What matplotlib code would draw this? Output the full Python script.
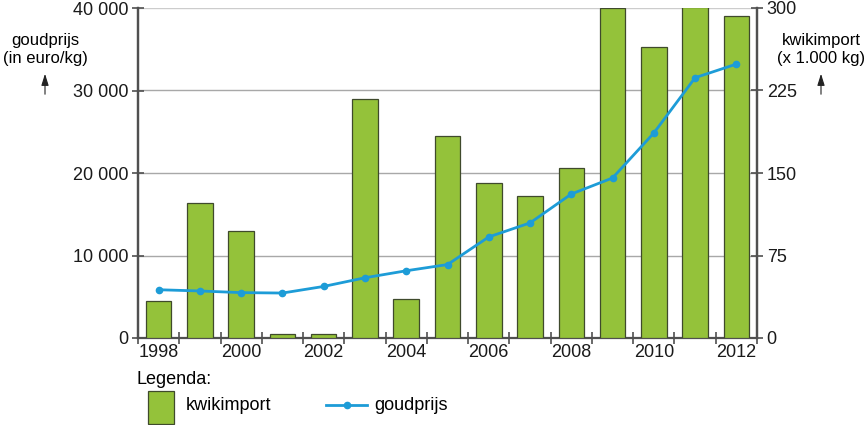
import matplotlib
matplotlib.use("Agg")
import matplotlib.pyplot as plt
import numpy as np

plt.rcParams['font.family'] = ['Liberation Sans', 'DejaVu Sans']

years = list(range(1998, 2013))
kwikimport = [33.5, 122.5, 97.5, 4, 4, 217, 35.5, 183.5, 141, 129, 154.5, 300, 264.5, 301, 293]
goudprijs = [5850, 5700, 5500, 5450, 6250, 7300, 8150, 8900, 12250, 13950, 17450, 19400, 24850, 31550, 33200]
left_ticks = [0, 10000, 20000, 30000, 40000]
right_ticks = [0, 75, 150, 225, 300]
year_labels = [1998, 2000, 2002, 2004, 2006, 2008, 2010, 2012]

bar_color = '#94c23a'
edge_color = '#3f4a2c'
line_color = '#1d9cd7'
spine_color = '#505050'
FS = 13

fig = plt.figure(figsize=(8.68, 4.25), dpi=100)
ax = fig.add_axes([138/868, 1-338/425, (757-138)/868, 330/425])
x = np.array(years)

ax.bar(x, kwikimport, width=0.62, color=bar_color, edgecolor=edge_color, linewidth=0.9, zorder=3)
ax.set_ylim(0, 300)
ax.set_xlim(1997.5, 2012.5)
for v in right_ticks[1:]:
    ax.axhline(v, color='#cccccc' if v == 300 else '#a8a8a8', linewidth=1, zorder=1)

ax2 = ax.twinx()
ax2.plot(x, goudprijs, color=line_color, linewidth=2, marker='o', markersize=4.5, zorder=5)
ax2.set_ylim(0, 40000)

ax.yaxis.tick_right()
ax.set_yticks(right_ticks)
ax.set_yticklabels([str(v) for v in right_ticks], fontsize=FS)
ax2.yaxis.tick_left()
ax2.set_yticks(left_ticks)
ax2.set_yticklabels([f"{v:,}".replace(",", " ") for v in left_ticks], fontsize=FS)

for a in (ax, ax2):
    a.spines['top'].set_visible(False)
    for s in ('left', 'right', 'bottom'):
        a.spines[s].set_color(spine_color)
        a.spines[s].set_linewidth(1.6)
    a.tick_params(axis='y', direction='inout', length=8, width=1.2, color=spine_color, pad=3, labelcolor='#1a1a1a')
ax2.spines['bottom'].set_visible(False)

ax.set_xticks(year_labels)
ax.set_xticklabels([str(y) for y in year_labels], fontsize=FS)
ax.set_xticks(np.arange(1997.5, 2013, 1.0), minor=True)
ax.tick_params(axis='x', which='major', length=0, pad=4, labelcolor='#1a1a1a')
ax.tick_params(axis='x', which='minor', direction='inout', length=8, width=1.2, color=spine_color)

# axis titles
fig.text(45/868, 1-50/425, "goudprijs\n(in euro/kg)", ha='center', va='center', fontsize=12, linespacing=1.25)
fig.text(821/868, 1-50/425, "kwikimport\n(x 1.000 kg)", ha='center', va='center', fontsize=12, linespacing=1.25)
for xc in (45, 821):
    fig.add_artist(matplotlib.patches.FancyArrowPatch((xc/868, 1-97/425), (xc/868, 1-71/425),
                   transform=fig.transFigure, arrowstyle='-|>,head_length=0.7,head_width=0.22',
                   mutation_scale=10, color='#222222', linewidth=0.8))

# legend
fig.text(137/868, 1-380/425, "Legenda:", ha='left', va='center', fontsize=FS)
fig.add_artist(matplotlib.patches.Rectangle((148/868, 1-424/425), 26/868, 33/425, transform=fig.transFigure,
               facecolor=bar_color, edgecolor=edge_color, linewidth=0.9))
fig.text(186/868, 1-405/425, "kwikimport", ha='left', va='center', fontsize=FS)
fig.add_artist(matplotlib.lines.Line2D([326/868, 367/868], [1-405/425, 1-405/425], transform=fig.transFigure,
               color=line_color, linewidth=2))
fig.add_artist(matplotlib.lines.Line2D([347/868], [1-405/425], transform=fig.transFigure,
               color=line_color, marker='o', markersize=4.5))
fig.text(374/868, 1-405/425, "goudprijs", ha='left', va='center', fontsize=FS)

fig.savefig("out.png", dpi=100)
